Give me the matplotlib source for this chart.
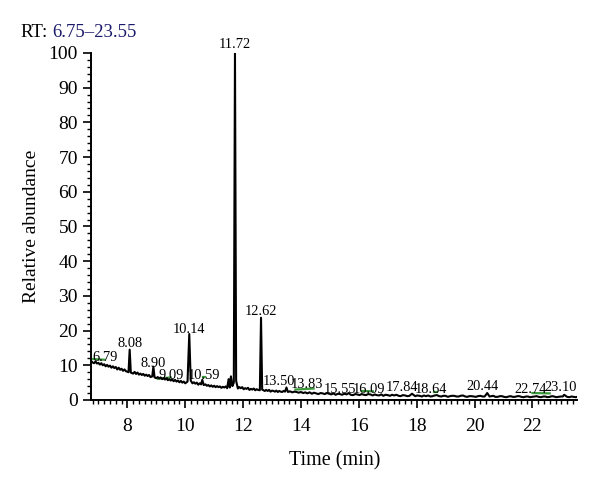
import matplotlib
matplotlib.use("Agg")
import matplotlib.pyplot as plt
from matplotlib.ticker import MultipleLocator

plt.rcParams['font.family'] = ['Liberation Serif', 'DejaVu Serif']

# ---- chromatogram trace (time in min, relative abundance) ----
trace_time = [6.75, 6.80, 6.85, 6.90, 6.95, 7.00, 7.05, 7.10, 7.15, 7.20, 7.25, 7.30, 7.35,
              7.40, 7.45, 7.50, 7.55, 7.60, 7.65, 7.70, 7.75, 7.80, 7.85, 7.90, 7.95,
              8.04, 8.08, 8.12, 8.2, 8.25, 8.3, 8.35, 8.4, 8.45, 8.5, 8.55, 8.6, 8.65,
              8.7, 8.75, 8.8, 8.86, 8.90, 8.94,
              9.0, 9.05, 9.1, 9.15, 9.2, 9.25, 9.3, 9.35, 9.4, 9.45, 9.5, 9.55, 9.6,
              9.65, 9.7, 9.75, 9.8, 9.85, 9.9, 9.95, 10.0, 10.08, 10.14, 10.19,
              10.25, 10.3, 10.35, 10.4, 10.45, 10.5, 10.55, 10.59, 10.64, 10.7, 10.75,
              10.8, 10.85, 10.9, 10.95, 11.0, 11.05, 11.1, 11.15, 11.2,
              11.25, 11.3, 11.35, 11.4, 11.45, 11.50, 11.54, 11.58, 11.63, 11.68, 11.72,
              11.76, 11.82, 11.87,
              11.92, 11.97, 12.02, 12.07, 12.12, 12.17, 12.22, 12.27, 12.32, 12.37, 12.42,
              12.47, 12.52, 12.58, 12.62, 12.66, 12.75, 12.8,
              12.85, 12.9, 12.95, 13.0, 13.05, 13.1, 13.15, 13.2, 13.25, 13.3, 13.35,
              13.4, 13.45, 13.50, 13.55, 13.62, 13.7, 13.78, 13.85, 13.92,
              14.0, 14.08, 14.15, 14.22, 14.3, 14.38, 14.45, 14.52, 14.6, 14.68, 14.75,
              14.82, 14.9, 14.98, 15.05, 15.12, 15.2, 15.28, 15.35, 15.42, 15.5, 15.58,
              15.65, 15.72, 15.8, 15.88, 15.95, 16.02, 16.1, 16.18, 16.25, 16.32, 16.4,
              16.48, 16.55, 16.62, 16.7, 16.78, 16.85, 16.92, 17.0, 17.08, 17.15, 17.22,
              17.3, 17.38, 17.45, 17.52, 17.6, 17.68, 17.75, 17.84, 17.95, 18.02,
              18.1, 18.18, 18.25, 18.32, 18.4, 18.48, 18.55, 18.62, 18.7, 18.78, 18.85,
              18.92, 19.0, 19.08, 19.15, 19.22, 19.3, 19.38, 19.45, 19.52, 19.6, 19.68,
              19.75, 19.82, 19.9, 19.98, 20.05, 20.12, 20.2, 20.28, 20.35, 20.44, 20.52,
              20.58, 20.65, 20.72, 20.8, 20.88, 20.95, 21.02, 21.1, 21.18, 21.25, 21.32,
              21.4, 21.48, 21.55, 21.62, 21.7, 21.78, 21.85, 21.92, 22.0, 22.08, 22.15,
              22.22, 22.3, 22.38, 22.45, 22.52, 22.6, 22.68, 22.75, 22.82, 22.9, 22.98,
              23.05, 23.10, 23.2, 23.28, 23.35, 23.42, 23.5, 23.55]
trace_abund = [11.2, 10.8, 10.6, 11.1, 10.5, 10.7, 10.2, 10.6, 10.0, 10.3, 9.7, 10.1, 9.6,
               9.9, 9.3, 9.7, 9.2, 9.5, 8.8, 9.3, 8.7, 9.0, 8.4, 8.8, 8.3,
               8.0, 14.5, 7.9, 7.6, 8.1, 7.5, 7.9, 7.3, 7.6, 7.2, 7.5, 7.0, 7.3,
               6.9, 7.2, 6.6, 6.8, 9.6, 6.5,
               6.3, 6.6, 6.2, 6.5, 6.0, 6.3, 5.9, 6.2, 5.7, 6.0, 5.6, 5.9, 5.4,
               5.8, 5.3, 5.6, 5.1, 5.5, 5.0, 5.3, 4.8, 5.3, 19.0, 5.6,
               4.8, 5.1, 4.7, 5.0, 4.4, 4.8, 4.5, 5.8, 4.3, 4.5, 4.1,
               4.3, 3.9, 4.2, 3.8, 4.1, 3.7, 4.0, 3.7, 3.9,
               3.5, 3.8, 3.6, 3.9, 3.4, 6.0, 3.6, 6.8, 4.0, 5.0, 100.0,
               5.5, 3.3, 3.7,
               3.4, 3.7, 3.1, 3.4, 3.2, 3.5, 2.9, 3.2, 3.0, 3.3, 2.8,
               3.1, 2.9, 2.8, 23.7, 3.0, 2.6, 2.9,
               2.6, 2.9, 2.4, 2.7, 2.6, 2.4, 2.7, 2.3, 2.6, 2.4, 2.3,
               2.6, 2.4, 3.6, 2.3, 2.5, 2.2, 2.4, 2.3, 2.1,
               2.3, 2.0, 2.2, 1.9, 2.2, 1.8, 2.1, 1.9, 1.7, 2.0, 1.9,
               1.7, 2.0, 1.8, 1.6, 1.9, 1.5, 1.8, 1.7, 1.5, 1.8, 1.6,
               2.0, 1.5, 1.4, 1.7, 1.6, 1.4, 1.7, 1.5, 1.4, 1.7, 1.6,
               1.3, 1.6, 1.4, 1.3, 1.6, 1.2, 1.5, 1.4, 1.2, 1.5, 1.3,
               1.5, 1.2, 1.1, 1.4, 1.3, 1.1, 1.2, 1.8, 1.1, 1.3,
               1.2, 1.0, 1.3, 1.1, 1.3, 1.0, 1.1, 1.3, 1.4, 1.1, 1.0,
               1.2, 1.2, 0.9, 1.1, 1.2, 1.2, 1.0, 1.0, 1.2, 1.3, 1.0,
               0.9, 1.1, 1.1, 1.0, 0.9, 1.1, 1.2, 1.0, 1.0, 2.0, 1.0,
               1.1, 1.2, 0.9, 0.9, 1.1, 1.1, 0.9, 0.8, 1.0, 1.1, 0.9,
               0.9, 1.1, 1.1, 0.9, 0.8, 1.0, 1.0, 0.8, 0.9, 1.0, 1.1,
               0.9, 0.8, 1.0, 1.0, 0.8, 0.9, 1.1, 1.0, 0.8, 0.9, 1.0,
               1.0, 1.5, 0.9, 0.8, 1.0, 0.9, 0.8, 0.9]

# ---- peak labels ----
peak_labels = ["6.79", "8.08", "8.90", "9.09", "10.14", "10.59", "11.72", "12.62",
               "13.50", "13.83", "15.55", "16.09", "17.84", "18.64", "20.44",
               "22.74", "23.10"]
label_x = [6.79, 8.08, 8.90, 9.50, 10.14, 10.66, 11.72, 12.60,
           13.22, 14.22, 15.33, 16.35, 17.50, 18.50, 20.28, 21.95, 22.97]
label_y = [11.2, 15.3, 9.5, 6.0, 19.3, 6.0, 101.4, 24.5,
           4.3, 3.5, 2.0, 2.0, 2.6, 2.0, 2.9, 2.0, 2.6]

# ---- green integration baselines ----
green_start = [6.82, 9.05, 10.60, 13.81, 16.11, 18.60, 22.00]
green_end = [7.20, 9.50, 10.70, 14.44, 16.49, 18.70, 22.60]
green_y0 = [11.8, 6.1, 6.6, 3.0, 2.6, 2.3, 2.0]
green_y1 = [11.6, 6.5, 6.6, 3.3, 2.5, 2.3, 1.9]

fig = plt.figure(figsize=(6.0, 4.84), dpi=100)
ax = fig.add_axes([0.152, 0.1736, 0.81, 0.717])

ax.plot(trace_time, trace_abund, color='black', lw=1.5, zorder=3)
for xs, xe, ys, ye in zip(green_start, green_end, green_y0, green_y1):
    ax.plot([xs, xe], [ys, ye], color='#3a9a3a', lw=1.6, zorder=2)

for txt, x, y in zip(peak_labels, label_x, label_y):
    ha = 'left' if x < 7 else 'center'
    ax.text(x, y, txt, ha=ha, va='baseline', fontsize=10.4, color='black', zorder=4)

ax.set_xlim(6.75, 23.55)
ax.set_ylim(0, 100)
ax.spines['top'].set_visible(False)
ax.spines['right'].set_visible(False)
ax.xaxis.set_major_locator(MultipleLocator(2))
ax.xaxis.set_minor_locator(MultipleLocator(0.2))
ax.yaxis.set_major_locator(MultipleLocator(10))
ax.yaxis.set_minor_locator(MultipleLocator(2))
ax.tick_params(axis='both', which='major', length=6, width=1.2, labelsize=14, direction='out')
ax.tick_params(axis='both', which='minor', length=3, width=1.0, direction='out')
ax.tick_params(axis='x', pad=7)
for s in ['left', 'bottom']:
    ax.spines[s].set_linewidth(1.4)

ax.set_xlabel("Time (min)", fontsize=14.5, labelpad=12)
ax.set_ylabel("Relative abundance", fontsize=14, labelpad=6)

fig.text(20 / 600, 1 - 37 / 484, "RT:", fontsize=13.5, color='black', va='baseline', ha='left')
fig.text(52 / 600, 1 - 37 / 484, "6.75\u201323.55", fontsize=13.5, color='#1c1a6b', va='baseline', ha='left')

fig.savefig("out.png", dpi=100)
